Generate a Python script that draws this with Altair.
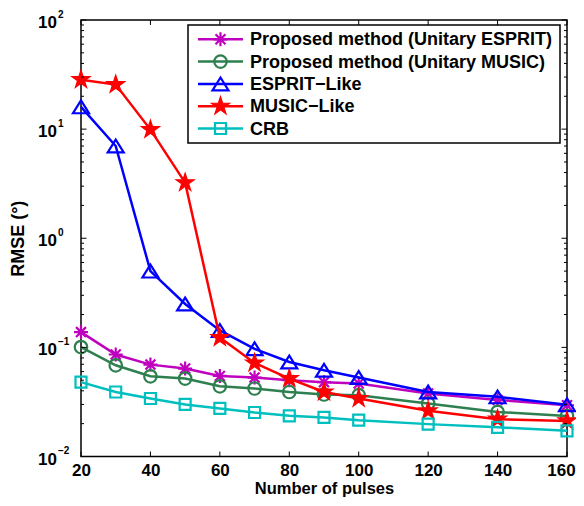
import math
import altair as alt
import pandas as pd

# ---------------- data ----------------
pulses = [20, 30, 40, 50, 60, 70, 80, 90, 100, 120, 140, 160]
series_names = [
    "Proposed method (Unitary ESPRIT)",
    "Proposed method (Unitary MUSIC)",
    "ESPRIT\u2212Like",
    "MUSIC\u2212Like",
    "CRB",
]
unitary_esprit = [0.138, 0.086, 0.0695, 0.064, 0.0547, 0.0529, 0.050, 0.048, 0.0466, 0.0378, 0.0330, 0.0295]
unitary_music = [0.1007, 0.0685, 0.0543, 0.0518, 0.044, 0.042, 0.039, 0.037, 0.0365, 0.0306, 0.0256, 0.0235]
esprit_like = [16.0, 7.0, 0.50, 0.25, 0.143, 0.097, 0.0735, 0.0617, 0.053, 0.039, 0.0352, 0.0298]
music_like = [28.4, 25.6, 9.9, 3.23, 0.123, 0.072, 0.0518, 0.039, 0.034, 0.0262, 0.0220, 0.0212]
crb = [0.048, 0.039, 0.034, 0.030, 0.0276, 0.0253, 0.0236, 0.0228, 0.0215, 0.0198, 0.0185, 0.0172]

x_ticks = [20, 40, 60, 80, 100, 120, 140, 160]
y_major = [0.01, 0.1, 1, 10, 100]
y_exponents = ["\u22122", "\u22121", "0", "1", "2"]
minor_mult = [2, 3, 4, 5, 6, 7, 8, 9]

# ---------------- styling ----------------
W, H = 486, 436.5
FONT = "Liberation Sans"

star_pts = []
for k in range(10):
    a = math.radians(-90 + 36 * k)
    r = 1.0 if k % 2 == 0 else 0.382
    star_pts.append(f"{r * math.cos(a):.3f},{r * math.sin(a):.3f}")
STAR = "M" + "L".join(star_pts) + "Z"
ASTERISK = "M0,-1L0,1M-1,0L1,0M-0.71,-0.71L0.71,0.71M-0.71,0.71L0.71,-0.71"
TRIANGLE = "M0,-0.8L1,0.8L-1,0.8Z"

styles = [
    dict(color="#BF00BF", shape=ASTERISK, size=196, filled=False),
    dict(color="#2E7F4F", shape="circle", size=156, filled=False),
    dict(color="#0000FF", shape=TRIANGLE, size=256, filled=False),
    dict(color="#FF0000", shape=STAR, size=361, filled=True),
    dict(color="#00BFBF", shape="square", size=121, filled=False),
]
series_values = [unitary_esprit, unitary_music, esprit_like, music_like, crb]

xs = alt.Scale(domain=[20, 160], nice=False, zero=False)
ys = alt.Scale(type="log", domain=[0.01, 100], nice=False)

x_axis = alt.Axis(
    values=x_ticks, title="Number of pulses", grid=False, domain=False,
    ticks=False, tickSize=0, labelPadding=6, labelFont=FONT, labelFontSize=17,
    labelFontWeight="bold", labelColor="black", titleFont=FONT, titleFontSize=16.5,
    titleFontWeight="bold", titleColor="black", titlePadding=1.5, labelFlush=False,
    labelOffset={"condition": {"test": "datum.value == 160", "value": -6}, "value": 0},
)
y_axis = alt.Axis(
    title="RMSE (\u00b0)", grid=False, domain=False, ticks=False, labels=False,
    titleFont=FONT, titleFontSize=18, titleFontWeight="bold", titleColor="black",
    titlePadding=54,
)


def X(field):
    return alt.X(field, scale=xs, axis=x_axis)


def Y(field):
    return alt.Y(field, scale=ys, axis=y_axis)


layers = []

# plot frame
one = alt.Chart(pd.DataFrame({"k": [0]}))
layers.append(one.mark_rect(fillOpacity=0, stroke="black", strokeWidth=1.5).encode(
    x=alt.value(0), x2=alt.value(W), y=alt.value(0), y2=alt.value(H)))

# data lines + markers, plotted in legend order
for i, (name, vals, st) in enumerate(zip(series_names, series_values, styles)):
    df = pd.DataFrame({"pulses": pulses, "rmse": vals})
    base = alt.Chart(df)
    layers.append(base.mark_line(color=st["color"], strokeWidth=2.5).encode(
        x=X("pulses:Q"), y=Y("rmse:Q")))
    pkw = dict(shape=st["shape"], size=st["size"], filled=st["filled"], opacity=1,
               strokeWidth=2.2, stroke=st["color"])
    if st["filled"]:
        pkw["fill"] = st["color"]
        pkw["strokeWidth"] = 1.2
    layers.append(base.mark_point(**pkw).encode(x=X("pulses:Q"), y=Y("rmse:Q")))

# inward ticks (box style)
xt = alt.Chart(pd.DataFrame({"t": x_ticks}))
layers.append(xt.mark_rule(color="black", strokeWidth=1).encode(
    x=X("t:Q"), y=alt.value(H), y2=alt.value(H - 5)))
layers.append(xt.mark_rule(color="black", strokeWidth=1).encode(
    x=X("t:Q"), y=alt.value(0), y2=alt.value(5)))

ymaj = alt.Chart(pd.DataFrame({"t": y_major}))
minor_vals = [m * d for d in y_major[:-1] for m in minor_mult]
ymin = alt.Chart(pd.DataFrame({"t": minor_vals}))
for src, ln in ((ymaj, 5.5), (ymin, 3)):
    layers.append(src.mark_rule(color="black", strokeWidth=1).encode(
        y=Y("t:Q"), x=alt.value(0), x2=alt.value(ln)))
    layers.append(src.mark_rule(color="black", strokeWidth=1).encode(
        y=Y("t:Q"), x=alt.value(W), x2=alt.value(W - ln)))

# y tick labels as 10 with superscript exponent
ylab = alt.Chart(pd.DataFrame({"t": y_major, "base": ["10"] * len(y_major), "exp": y_exponents}))
layers.append(ylab.mark_text(font=FONT, fontSize=17, fontWeight="bold", color="black",
                             align="right", baseline="alphabetic", dy=8).encode(
    y=Y("t:Q"), x=alt.value(-24), text="base:N"))
layers.append(ylab.mark_text(font=FONT, fontSize=10, fontWeight="bold", color="black",
                             align="left", baseline="alphabetic", dy=-2.5).encode(
    y=Y("t:Q"), x=alt.value(-23), text="exp:N"))

# legend box
layers.append(one.mark_rect(fill="white", stroke="black", strokeWidth=1.5).encode(
    x=alt.value(107), x2=alt.value(479), y=alt.value(5), y2=alt.value(123)))
for i, (name, st) in enumerate(zip(series_names, styles)):
    yy = 19.3 + 22.3 * i
    row = alt.Chart(pd.DataFrame({"label": [name]}))
    layers.append(row.mark_rule(color=st["color"], strokeWidth=2.5).encode(
        x=alt.value(117), x2=alt.value(162), y=alt.value(yy)))
    pkw = dict(shape=st["shape"], size=st["size"], filled=st["filled"], opacity=1,
               strokeWidth=2.2, stroke=st["color"])
    if st["filled"]:
        pkw["fill"] = st["color"]
        pkw["strokeWidth"] = 1.2
    layers.append(row.mark_point(**pkw).encode(x=alt.value(139.5), y=alt.value(yy)))
    layers.append(row.mark_text(font=FONT, fontSize=18, fontWeight="bold", color="black",
                                align="left", baseline="middle", dy=1).encode(
        x=alt.value(169), y=alt.value(yy), text="label:N"))

chart = alt.layer(*layers).properties(
    width=W, height=H,
    padding={"left": 73, "top": 12, "right": 9, "bottom": 41.5},
    autosize=alt.AutoSizeParams(type="none"),
).configure_view(stroke=None)

chart.save("out.html", embed_options={"renderer": "svg", "actions": False})
